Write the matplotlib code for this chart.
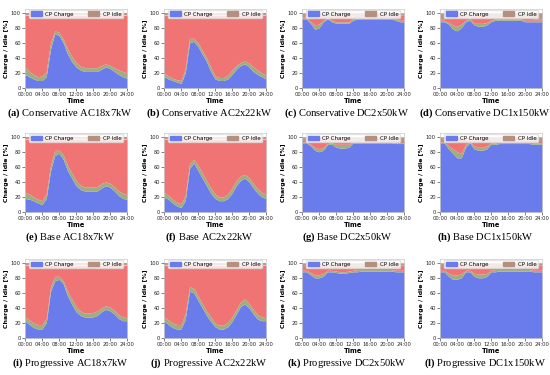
import matplotlib
matplotlib.use("Agg")
import matplotlib.pyplot as plt
from matplotlib.patches import Patch

plt.rcParams['mathtext.fontset'] = 'custom'
plt.rcParams['mathtext.rm'] = 'Liberation Serif'
plt.rcParams['mathtext.bf'] = 'Liberation Serif:bold'

hours = list(range(25))
tick_pos = [0, 4, 8, 12, 16, 20, 24]
tick_labels = ["00:00", "04:00", "08:00", "12:00", "16:00", "20:00", "24:00"]
y_ticks = [0, 20, 40, 60, 80, 100]

captions = [
    ("(a)", "Conservative AC18x7kW"), ("(b)", "Conservative AC2x22kW"),
    ("(c)", "Conservative DC2x50kW"), ("(d)", "Conservative DC1x150kW"),
    ("(e)", "Base AC18x7kW"), ("(f)", "Base AC2x22kW"),
    ("(g)", "Base DC2x50kW"), ("(h)", "Base DC1x150kW"),
    ("(i)", "Progressive AC18x7kW"), ("(j)", "Progressive AC2x22kW"),
    ("(k)", "Progressive DC2x50kW"), ("(l)", "Progressive DC1x150kW"),
]

# CP charge share (%) per hour
charge_a = [18,15,12,10,10,15,52,72,70,60,45,35,28,24,22,22,22,22,25,28,26,22,18,15,13]
charge_b = [15,12,10,8,6,20,60,62,55,45,35,22,12,10,10,12,18,25,30,32,28,22,18,15,12]
charge_c = [92,92,86,78,80,88,92,88,86,86,86,86,90,92,92,92,92,92,92,92,92,92,90,88,88]
charge_d = [88,88,85,78,76,80,88,90,84,82,82,84,88,90,90,90,90,90,90,90,88,88,88,88,88]
charge_e = [18,17,15,12,10,18,55,75,78,70,55,45,35,30,28,28,28,28,32,35,33,28,22,18,17]
charge_f = [20,17,12,8,6,15,58,65,55,45,35,25,18,15,15,18,25,35,42,45,40,32,25,20,18]
charge_g = [92,92,88,82,80,82,90,90,86,85,85,86,92,92,92,92,92,92,92,92,92,92,91,91,91]
charge_h = [92,92,84,78,72,72,86,92,84,82,82,84,90,90,91,91,91,91,91,91,91,91,90,90,90]
charge_i = [23,18,14,12,12,20,62,76,78,72,56,45,35,30,28,28,28,30,35,38,36,32,26,23,23]
charge_j = [23,18,14,12,12,25,62,60,50,40,30,22,15,12,12,15,22,32,42,45,40,32,25,23,23]
charge_k = [88,88,84,80,80,82,88,88,87,86,86,87,88,88,89,89,89,89,89,89,89,89,88,88,88]
charge_l = [88,88,82,78,78,80,88,88,82,80,80,82,88,88,89,89,89,89,89,89,89,89,88,88,88]

# upper edge of the charge spread band (%)
band_a = [28,22,18,15,16,22,60,76,74,65,52,42,34,29,27,27,27,27,30,32,30,27,24,22,20]
band_b = [20,16,13,11,10,26,66,66,60,50,40,28,16,14,14,17,24,30,34,36,33,28,24,20,17]
band_c = [93,93,88,84,85,90,93,90,88,88,88,88,92,93,93,93,93,93,93,93,93,93,92,90,90]
band_d = [90,90,87,84,82,85,90,92,86,86,86,87,90,92,92,92,92,92,92,92,90,90,90,90,90]
band_e = [26,24,20,17,15,24,62,82,82,76,62,52,42,36,33,33,33,34,38,40,38,34,28,25,23]
band_f = [26,22,17,13,11,22,64,70,62,52,42,32,24,20,20,24,32,42,48,50,46,38,31,26,24]
band_g = [93,93,90,86,84,86,91,92,90,90,90,90,93,93,93,93,93,93,93,93,93,93,92,92,92]
band_h = [93,93,88,84,80,78,90,93,88,86,86,88,92,92,93,93,93,93,93,93,93,93,92,92,92]
band_i = [28,24,20,18,18,26,68,82,82,76,62,52,42,36,33,33,34,36,40,43,41,37,31,28,27]
band_j = [28,24,20,18,18,32,68,66,56,46,36,28,20,17,17,21,28,38,48,52,46,38,31,28,27]
band_k = [90,90,87,84,84,86,90,90,89,88,88,89,90,91,91,91,91,91,91,91,91,91,90,90,90]
band_l = [90,90,86,84,84,85,90,90,86,85,85,86,90,91,91,91,91,91,91,91,91,91,90,90,90]

# upper edge of CP idle (%)
idle_ac = [97,97,97,97,97,97,97,97,97,97,97,97,97,97,97,97,97,97,97,97,97,97,97,97,97]
idle_c = [94,94,97,97,97,97,95,95,97,97,97,97,95,95,95,95,95,95,95,95,95,95,97,97,97]
idle_d = [92,92,97,97,97,97,96,94,97,97,97,97,94,94,94,94,94,94,94,94,94,94,92,92,92]
idle_g = [95,95,97,97,97,97,95,95,97,97,97,97,95,95,95,95,95,95,95,95,95,95,95,95,95]
idle_h = [95,95,98,98,98,98,96,95,98,98,98,98,96,96,96,96,96,96,96,96,96,96,95,95,95]
idle_k = [95,95,97,97,97,97,95,95,97,97,97,97,95,95,95,95,95,95,95,95,95,95,97,97,97]
idle_l = [95,95,97,97,97,97,95,95,97,97,97,97,95,95,95,95,95,95,95,95,95,95,97,97,97]

total_cp = [100]*25

panels = [
    (charge_a, band_a, idle_ac), (charge_b, band_b, idle_ac),
    (charge_c, band_c, idle_c), (charge_d, band_d, idle_d),
    (charge_e, band_e, idle_ac), (charge_f, band_f, idle_ac),
    (charge_g, band_g, idle_g), (charge_h, band_h, idle_h),
    (charge_i, band_i, idle_ac), (charge_j, band_j, idle_ac),
    (charge_k, band_k, idle_k), (charge_l, band_l, idle_l),
]

C_BLUE = '#6a7cec'
C_GREEN = '#9fae7e'
C_RED = '#f07474'
C_BROWN = '#bd9585'
C_LEG_IDLE = '#b58f80'

W, H = 550, 375
fig = plt.figure(figsize=(5.5, 3.75), dpi=100)
lefts = [25, 164, 302, 440]
bottoms = [88, 212, 338]
aw, ah = 102, 79

for idx, (ch, bd, idl) in enumerate(panels):
    r, c = divmod(idx, 4)
    ax = fig.add_axes([lefts[c]/W, 1 - bottoms[r]/H, aw/W, ah/H])
    ax.fill_between(hours, 0, ch, color=C_BLUE, lw=0)
    ax.fill_between(hours, ch, bd, color=C_GREEN, lw=0)
    ax.fill_between(hours, bd, idl, color=C_RED, lw=0)
    ax.fill_between(hours, idl, total_cp, color=C_BROWN, lw=0)
    ax.set_xlim(0, 24)
    ax.set_ylim(0, 105)
    ax.set_xticks(tick_pos)
    ax.set_xticklabels(tick_labels)
    ax.set_yticks(y_ticks)
    ax.tick_params(labelsize=3.7, length=2, width=0.4, pad=1, colors='#222222')
    for s in ax.spines.values():
        s.set_linewidth(0.4)
        s.set_color('#bbbbbb')
    ax.set_xlabel("Time", fontsize=4.8, fontweight='bold', labelpad=0.8)
    ax.set_ylabel("Charge / Idle [%]", fontsize=4.5, fontweight='bold', labelpad=1.5)
    handles = [Patch(color=C_BLUE, label="CP Charge"), Patch(color=C_LEG_IDLE, label="CP Idle")]
    ax.legend(handles=handles, loc='upper center', ncol=2, fontsize=4.0,
              frameon=True, framealpha=0.8, edgecolor='#dddddd',
              borderaxespad=0.15, handlelength=2.0, handleheight=0.8,
              handletextpad=0.6, columnspacing=2.6, borderpad=0.3, fancybox=True)
    lab, rest = captions[idx]
    cx = (lefts[c] + aw/2 - 6) / W
    cy = 1 - (bottoms[r] + 25) / H
    fig.text(cx, cy, r"$\mathbf{" + lab + "}$ " + rest, ha='center', va='center',
             fontsize=7.6, family='Liberation Serif')

fig.savefig("out.png", dpi=100)
